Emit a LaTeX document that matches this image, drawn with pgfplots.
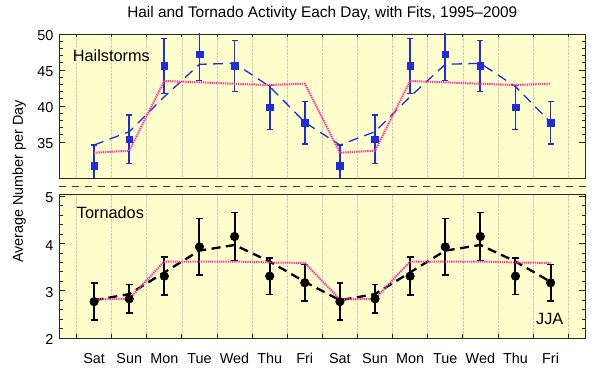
\documentclass[border=0pt]{standalone}
\usepackage{fontspec}
\setmainfont{Liberation Sans}
\usepackage{pgfplots}
\usepackage{pgfplotstable}
\pgfplotsset{compat=1.18}
\definecolor{bg}{RGB}{255,255,205}
\definecolor{hblue}{RGB}{30,45,220}
\definecolor{fpink}{RGB}{255,50,160}
\definecolor{framec}{RGB}{40,40,40}

\pgfplotstableread{
x hail herr hfit hstep torn terr tfit tstep
0  31.71 2.87 34.58 33.51 2.77 0.39 2.80 2.82
1  35.38 3.38 36.43 33.79 2.83 0.30 2.93 2.83
2  45.56 3.80 41.29 43.47 3.31 0.40 3.39 3.62
3  47.18 3.67 45.79 43.29 3.93 0.60 3.85 3.62
4  45.56 3.55 45.93 43.08 4.15 0.51 3.97 3.62
5  39.82 3.05 42.70 42.92 3.31 0.39 3.62 3.60
6  37.68 2.94 37.74 43.10 3.17 0.385 3.19 3.59
7  31.71 2.87 34.58 33.51 2.77 0.39 2.80 2.82
8  35.38 3.38 36.43 33.79 2.83 0.30 2.93 2.83
9  45.56 3.80 41.29 43.47 3.31 0.40 3.39 3.62
10 47.18 3.67 45.79 43.29 3.93 0.60 3.85 3.62
11 45.56 3.55 45.93 43.08 4.15 0.51 3.97 3.62
12 39.82 3.05 42.70 42.92 3.31 0.39 3.62 3.60
13 37.68 2.94 37.74 43.10 3.17 0.385 3.19 3.59
}\data

\pgfplotsset{
  common/.style={
    scale only axis, width=526.7pt, height=144pt,
    xmin=-1, xmax=14,
    axis line style={framec, line width=0.9pt},
    tick align=inside,
    major tick length=6.5pt, minor tick length=3.5pt,
    every tick/.style={framec, line width=0.8pt},
    xtick={0,...,13},
    major x tick style={draw=none},
    minor xtick={-0.5,0.5,...,13.5},
    xminorgrids=true,
    minor x grid style={gray!45, densely dotted, line width=0.6pt},
    minor y tick num=4,
    ytick pos=both,
    /pgf/number format/assume math mode=true,
    ticklabel style={font=\fontsize{14.4}{16}\selectfont},
    yticklabel style={anchor=east, inner sep=0pt, xshift=-5.5pt, yshift=-1.5pt},
    clip=true,
  }
}

\begin{document}
\begin{tikzpicture}[x=1pt,y=1pt]
\path[use as bounding box] (0,0) rectangle (599,374);
\fill[bg] (59,36) rectangle (585.7,340);

\begin{axis}[common,
  at={(59pt,196pt)}, anchor=south west,
  ymin=30, ymax=50, ytick={35,40,45,50},
  xtick pos=right, xticklabels={},
]
\addplot[hblue, line width=1.8pt, only marks, mark=square*, mark size=3.3pt,
  mark options={line width=0.5pt},
  error bars/y dir=both, error bars/y explicit,
  error bars/error bar style={line width=1.8pt, hblue, solid},
  error bars/error mark options={rotate=90, mark size=3pt, line width=1.5pt, hblue}]
  table[x=x, y=hail, y error=herr] {\data};
\addplot[hblue, line width=1.3pt, dash pattern=on 10pt off 6.5pt, no marks]
  table[x=x, y=hfit] {\data};
\addplot[fpink, line width=2pt, dash pattern=on 1.3pt off 0.9pt, no marks]
  table[x=x, y=hstep] {\data};
\end{axis}

\begin{axis}[common,
  at={(59pt,36pt)}, anchor=south west,
  ymin=2, ymax=5.05, ytick={2,3,4,5},
  xtick pos=left,
  xticklabels={Sat,Sun,Mon,Tue,Wed,Thu,Fri,Sat,Sun,Mon,Tue,Wed,Thu,Fri},
  xticklabel style={anchor=base, yshift=-26pt, inner sep=0pt},
]
\addplot[black, line width=2pt, only marks, mark=*, mark size=4.3pt,
  mark options={line width=0.5pt},
  error bars/y dir=both, error bars/y explicit,
  error bars/error bar style={line width=2pt, black, solid},
  error bars/error mark options={rotate=90, mark size=3.4pt, line width=1.6pt, black}]
  table[x=x, y=torn, y error=terr] {\data};
\addplot[black, line width=2.3pt, dash pattern=on 9pt off 5.5pt, no marks]
  table[x=x, y=tfit] {\data};
\addplot[fpink, line width=2pt, dash pattern=on 1.3pt off 0.9pt, no marks]
  table[x=x, y=tstep] {\data};
\end{axis}

\draw[framec!90, line width=0.9pt, dash pattern=on 7pt off 6pt] (59,188) -- (585.7,188);

\node[anchor=base, inner sep=0pt, font=\fontsize{15.4}{17}\selectfont] at (322.3,356.7)
  {Hail and Tornado Activity Each Day, with Fits, 1995–2009};
\node[rotate=90, anchor=center, inner sep=0pt, font=\fontsize{14.4}{16}\selectfont] at (19.2,192.7)
  {Average Number per Day};
\node[anchor=base west, inner sep=0pt, font=\fontsize{16.3}{18}\selectfont] at (72.7,312.3) {Hailstorms};
\node[anchor=base west, inner sep=0pt, font=\fontsize{16.3}{18}\selectfont] at (76.7,155.7) {Tornados};
\node[anchor=base east, inner sep=0pt, font=\fontsize{16.3}{18}\selectfont] at (563.5,49) {JJA};
\end{tikzpicture}
\end{document}
